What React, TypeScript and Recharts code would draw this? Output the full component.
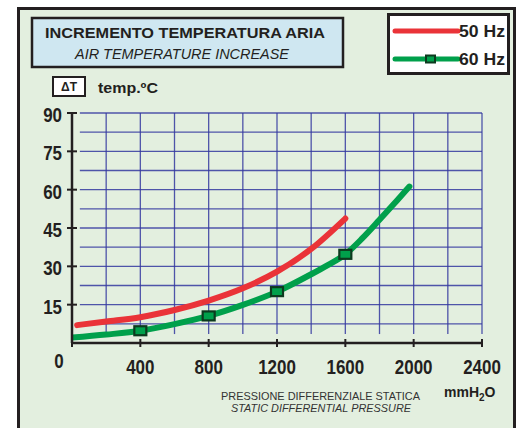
import React from 'react';
import { LineChart, Line, XAxis, YAxis, ReferenceLine } from 'recharts';

// pressure (mmH2O) / temperature increase (°C) read from the plate
const pressureTicks = [0, 400, 800, 1200, 1600, 2000, 2400];
const tempTicks = [0, 15, 30, 45, 60, 75, 90];
const gridTemps = [7.5, 15, 22.5, 30, 37.5, 45, 52.5, 60, 67.5, 75, 82.5, 90];
const gridPressures = [200, 400, 600, 800, 1000, 1200, 1400, 1600, 1800, 2000, 2200, 2400];

const hz50Pressure = [30, 200, 400, 600, 800, 1000, 1200, 1400, 1600];
const hz50Temp = [7.0, 8.4, 10.1, 12.9, 16.6, 21.4, 27.9, 36.8, 48.7];

const hz60Pressure = [0, 200, 400, 600, 800, 1000, 1200, 1400, 1500, 1600, 1700, 1800, 1900, 1975];
const hz60Temp = [2.1, 3.3, 4.8, 7.4, 10.6, 14.9, 20.1, 26.9, 30.6, 34.7, 41.0, 48.2, 55.6, 61.2];
const hz60Markers = [400, 800, 1200, 1600];

const hz50 = hz50Pressure.map((p, i) => ({ p, t: hz50Temp[i] }));
const hz60 = hz60Pressure.map((p, i) => ({ p, t: hz60Temp[i] }));

const INK = '#231f20';
const RED = '#ea3338';
const GREEN = '#00a04b';
const GRID = '#3438a0';
const FONT = "'Liberation Sans', Arial, Helvetica, sans-serif";

const XTick = (props: any) => {
  const { x, y, payload } = props;
  const v = payload.value;
  return (
    <g>
      <line x1={x} y1={y - 4} x2={x} y2={y + 4} stroke={INK} strokeWidth={2} />
      {v === 0 ? (
        <text transform={`translate(${x - 13},${y + 25}) scale(0.87,1)`} textAnchor="middle"
          fontFamily={FONT} fontWeight="bold" fontSize={19.5} fill={INK}>0</text>
      ) : (
        <text transform={`translate(${x},${y + 31}) scale(0.87,1)`} textAnchor="middle"
          fontFamily={FONT} fontWeight="bold" fontSize={19.5} fill={INK}>{v}</text>
      )}
    </g>
  );
};

const YTick = (props: any) => {
  const { x, y, payload } = props;
  if (payload.value === 0) return <g />;
  return (
    <g>
      <line x1={x - 5} y1={y} x2={x + 5} y2={y} stroke={INK} strokeWidth={2} />
      <text transform={`translate(${x - 10},${y + 9}) scale(0.87,1)`} textAnchor="end"
        fontFamily={FONT} fontWeight="bold" fontSize={19.5} fill={INK}>{payload.value}</text>
    </g>
  );
};

const SquareDot = (props: any) => {
  const { cx, cy, payload } = props;
  if (!hz60Markers.includes(payload.p)) return <g key={`d-${payload.p}`} />;
  return (
    <rect key={`d-${payload.p}`} x={cx - 6} y={cy - 4.5} width={12} height={9}
      fill={GREEN} stroke="#0c3a1e" strokeWidth={2.2} />
  );
};

export default function App() {
  return (
    <div style={{ position: 'absolute', left: 0, top: 0, width: 519, height: 428, background: '#fff', overflow: 'hidden' }}>
      <div style={{ position: 'absolute', left: 18, top: 8, width: 497, height: 430, background: '#e3efdf' }} />
      <div style={{ position: 'absolute', left: 0, top: 0 }}>
        <LineChart width={519} height={428} margin={{ top: 113, right: 37, bottom: 50, left: 32 }}>
          <XAxis type="number" dataKey="p" domain={[0, 2400]} ticks={pressureTicks} interval={0}
            height={35} tickSize={0} tickMargin={0} tickLine={false} tick={<XTick />}
            axisLine={{ stroke: INK, strokeWidth: 2.5 }} allowDataOverflow />
          <YAxis type="number" dataKey="t" domain={[0, 90]} ticks={tempTicks} interval={0}
            width={40} tickSize={0} tickMargin={0} tickLine={false} tick={<YTick />}
            axisLine={{ stroke: INK, strokeWidth: 2.5 }} allowDataOverflow />
          {gridTemps.map((t) => (
            <ReferenceLine key={`h${t}`} segment={[{ x: 46, y: t }, { x: 2400, y: t }]}
              stroke={GRID} strokeWidth={1.3} strokeOpacity={0.85} />
          ))}
          {gridPressures.map((p) => (
            <ReferenceLine key={`v${p}`} segment={[{ x: p, y: 3.5 }, { x: p, y: 90 }]}
              stroke={GRID} strokeWidth={1.3} strokeOpacity={0.85} />
          ))}
          <Line data={hz50} dataKey="t" type="monotone" stroke={RED} strokeWidth={6}
            strokeLinecap="round" dot={false} activeDot={false} isAnimationActive={false} />
          <Line data={hz60} dataKey="t" type="monotone" stroke={GREEN} strokeWidth={6}
            strokeLinecap="round" dot={<SquareDot />} activeDot={false} isAnimationActive={false} />
        </LineChart>
      </div>
      <svg width={519} height={428} style={{ position: 'absolute', left: 0, top: 0, pointerEvents: 'none' }}>
        <rect x={18.5} y={8.5} width={496} height={440} fill="none" stroke={INK} strokeWidth={3} />

        <rect x={32} y={18} width={311} height={49} fill="#cfe7f1" stroke={INK} strokeWidth={2.5} />
        <text x={45} y={38} textLength={280} lengthAdjust="spacingAndGlyphs" fontFamily={FONT}
          fontWeight="bold" fontSize={15.5} fill={INK}>INCREMENTO TEMPERATURA ARIA</text>
        <text x={75} y={59} textLength={214} lengthAdjust="spacingAndGlyphs" fontFamily={FONT}
          fontStyle="italic" fontSize={14} fill={INK}>AIR TEMPERATURE INCREASE</text>

        <rect x={53} y={77} width={32} height={19} fill="#fff" stroke={INK} strokeWidth={2} />
        <text x={69} y={91} textAnchor="middle" fontFamily={FONT} fontWeight="bold" fontSize={12} fill={INK}>ΔT</text>
        <text x={98} y={93} textLength={60} lengthAdjust="spacingAndGlyphs" fontFamily={FONT}
          fontWeight="bold" fontSize={14} fill={INK}>temp.ºC</text>

        <rect x={388.5} y={14.5} width={120} height={59} fill="#fff" stroke={INK} strokeWidth={3} />
        <line x1={395} y1={31} x2={458} y2={31} stroke={RED} strokeWidth={5} strokeLinecap="round" />
        <text x={459} y={37} textLength={46} lengthAdjust="spacingAndGlyphs" fontFamily={FONT}
          fontWeight="bold" fontSize={16} fill={INK}>50 Hz</text>
        <line x1={395} y1={59} x2={458} y2={59} stroke={GREEN} strokeWidth={5} strokeLinecap="round" />
        <rect x={426} y={55.5} width={9} height={7} fill={GREEN} stroke="#0c3a1e" strokeWidth={2} />
        <text x={459} y={65} textLength={46} lengthAdjust="spacingAndGlyphs" fontFamily={FONT}
          fontWeight="bold" fontSize={16} fill={INK}>60 Hz</text>

        <text x={221} y={400} textLength={199} lengthAdjust="spacingAndGlyphs" fontFamily={FONT}
          fontSize={10.5} fill="#333">PRESSIONE DIFFERENZIALE STATICA</text>
        <text x={231} y={412} textLength={180} lengthAdjust="spacingAndGlyphs" fontFamily={FONT}
          fontStyle="italic" fontSize={10.5} fill="#333">STATIC DIFFERENTIAL PRESSURE</text>
        <text x={444} y={397} fontFamily={FONT} fontWeight="bold" fontSize={14} fill={INK}>
          mmH<tspan fontSize={10} dy={4}>2</tspan><tspan dy={-4}>O</tspan>
        </text>
      </svg>
    </div>
  );
}
